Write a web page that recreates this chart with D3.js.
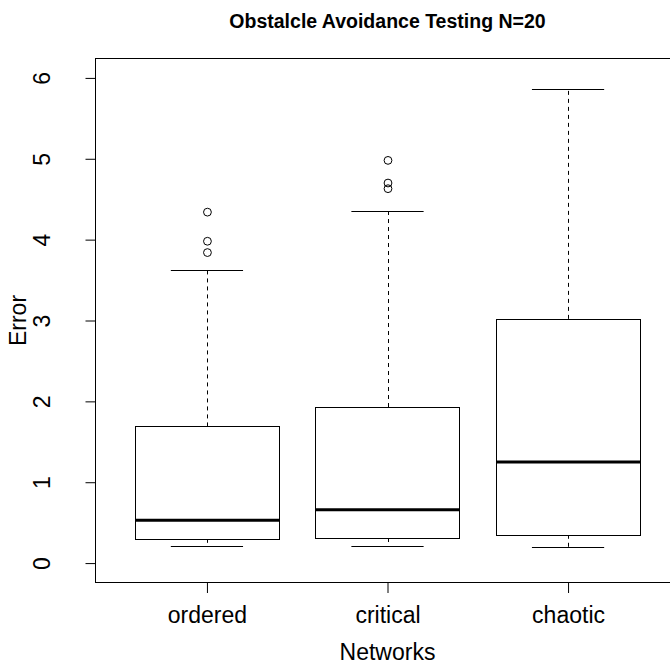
<!DOCTYPE html>
<html>
<head>
<meta charset="utf-8">
<script src="https://cdn.jsdelivr.net/npm/d3@7"></script>
<style>
  body { margin: 0; background: #fff; }
  text { font-family: "Liberation Sans", Arial, sans-serif; fill: #000; }
</style>
</head>
<body>
<script>
// Box statistics
var categories = ["ordered", "critical", "chaotic"];
var whiskerLow = [0.21, 0.21, 0.20];
var q1 = [0.30, 0.31, 0.35];
var medians = [0.53, 0.66, 1.25];
var q3 = [1.69, 1.93, 3.02];
var whiskerHigh = [3.62, 4.35, 5.86];
var outliers = [[4.34, 3.98, 3.84], [4.98, 4.70, 4.63], []];
var yTicks = [0, 1, 2, 3, 4, 5, 6];

var width = 670, height = 664;

var svg = d3.select("body")
    .append("svg")
    .attr("width", width)
    .attr("height", height);

// plot region (right edge falls off the canvas, as in the reference)
var plotLeft = 95, plotRight = 680, plotTop = 58.5, plotBottom = 582.5;

var x = d3.scaleLinear()
    .domain([0.38, 3.62])
    .range([plotLeft, plotRight]);

var y = d3.scaleLinear()
    .domain([-0.24, 6.24])
    .range([plotBottom, plotTop]);

var boxes = categories.map(function(c, i){
    return { name: c, pos: i + 1, lo: whiskerLow[i], q1: q1[i], med: medians[i],
             q3: q3[i], hi: whiskerHigh[i], out: outliers[i] };
});

var boxW = x(1.4) - x(0.6);
var capW = boxW / 2;

// whiskers (dashed)
svg.selectAll(".whiskerUp")
    .data(boxes)
    .enter()
    .append("line")
    .attr("x1", d => Math.round(x(d.pos)) + 0.5)
    .attr("x2", d => Math.round(x(d.pos)) + 0.5)
    .attr("y1", d => y(d.q3))
    .attr("y2", d => y(d.hi))
    .attr("stroke", "#000")
    .attr("stroke-dasharray", "4,4");

svg.selectAll(".whiskerDown")
    .data(boxes)
    .enter()
    .append("line")
    .attr("x1", d => Math.round(x(d.pos)) + 0.5)
    .attr("x2", d => Math.round(x(d.pos)) + 0.5)
    .attr("y1", d => y(d.q1))
    .attr("y2", d => y(d.lo))
    .attr("stroke", "#000")
    .attr("stroke-dasharray", "4,4");

// whisker caps
["hi", "lo"].forEach(function(k){
    svg.selectAll(".cap-" + k)
        .data(boxes)
        .enter()
        .append("line")
        .attr("x1", d => x(d.pos) - capW / 2)
        .attr("x2", d => x(d.pos) + capW / 2)
        .attr("y1", d => Math.round(y(d[k])) + 0.5)
        .attr("y2", d => Math.round(y(d[k])) + 0.5)
        .attr("stroke", "#000");
});

// boxes
svg.selectAll(".box")
    .data(boxes)
    .enter()
    .append("rect")
    .attr("x", d => Math.round(x(d.pos) - boxW / 2) + 0.5)
    .attr("y", d => Math.round(y(d.q3)) + 0.5)
    .attr("width", Math.round(boxW))
    .attr("height", d => Math.round(y(d.q1)) - Math.round(y(d.q3)))
    .attr("fill", "#fff")
    .attr("stroke", "#000");

// medians
svg.selectAll(".median")
    .data(boxes)
    .enter()
    .append("line")
    .attr("x1", d => Math.round(x(d.pos) - boxW / 2) + 0.5)
    .attr("x2", d => Math.round(x(d.pos) - boxW / 2) + 0.5 + Math.round(boxW))
    .attr("y1", d => y(d.med))
    .attr("y2", d => y(d.med))
    .attr("stroke", "#000")
    .attr("stroke-width", 3);

// outliers
var outPts = [];
boxes.forEach(function(b){
    b.out.forEach(function(v){ outPts.push({ pos: b.pos, v: v }); });
});
svg.selectAll(".outlier")
    .data(outPts)
    .enter()
    .append("circle")
    .attr("cx", d => x(d.pos) + 0.5)
    .attr("cy", d => y(d.v))
    .attr("r", 3.9)
    .attr("fill", "none")
    .attr("stroke", "#000");

// frame
svg.append("rect")
    .attr("x", plotLeft + 0.5)
    .attr("y", plotTop)
    .attr("width", plotRight - plotLeft)
    .attr("height", plotBottom - plotTop)
    .attr("fill", "none")
    .attr("stroke", "#000");

// y axis
var yAxis = svg.append("g")
    .attr("transform", "translate(" + (plotLeft + 0.5) + ",0)")
    .call(d3.axisLeft(y).tickValues(yTicks).tickSize(10).tickPadding(0).tickFormat(d3.format("d")));
yAxis.select(".domain").remove();
yAxis.selectAll("line").attr("stroke", "#000");
yAxis.selectAll("text")
    .attr("x", 0)
    .attr("dy", 0)
    .attr("transform", "translate(-46,0) rotate(-90)")
    .attr("text-anchor", "middle")
    .attr("fill", "#000")
    .style("font-size", "23px")
    .style("font-family", "Liberation Sans, Arial, sans-serif");

// x axis
var xAxis = svg.append("g")
    .attr("transform", "translate(0," + (plotBottom + 0.5) + ")")
    .call(d3.axisBottom(x).tickValues([1, 2, 3]).tickSize(10)
        .tickFormat((d, i) => categories[i]));
xAxis.select(".domain").remove();
xAxis.selectAll("line").attr("stroke", "#000");
xAxis.selectAll("text")
    .attr("y", 0)
    .attr("dy", 0)
    .attr("transform", "translate(0,40)")
    .attr("fill", "#000")
    .style("font-size", "23px")
    .style("font-family", "Liberation Sans, Arial, sans-serif");

// titles
svg.append("text")
    .attr("x", (plotLeft + plotRight) / 2)
    .attr("y", 28)
    .attr("text-anchor", "middle")
    .style("font-size", "19.5px")
    .style("font-weight", "bold")
    .text("Obstalcle Avoidance Testing N=20");

svg.append("text")
    .attr("x", (plotLeft + plotRight) / 2)
    .attr("y", 660)
    .attr("text-anchor", "middle")
    .style("font-size", "23px")
    .text("Networks");

svg.append("text")
    .attr("transform", "translate(26," + ((plotTop + plotBottom) / 2) + ") rotate(-90)")
    .attr("text-anchor", "middle")
    .style("font-size", "23px")
    .text("Error");
</script>
</body>
</html>
